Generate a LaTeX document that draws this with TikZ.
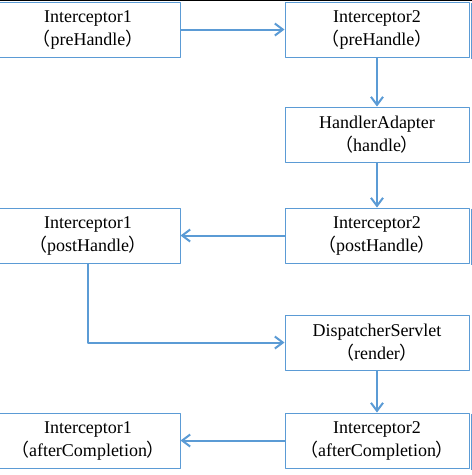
\documentclass[tikz,border=0pt]{standalone}
\usepackage{fontspec}
\setmainfont{Liberation Serif}
\newfontfamily\cjk{Noto Sans CJK SC}
\usetikzlibrary{arrows.meta}
\definecolor{boxblue}{HTML}{5B9BD5}
\newcommand{\fwl}{{\cjk （}}
\newcommand{\fwr}{{\cjk ）}}
\tikzset{
	hop/.style={draw=boxblue,line width=1pt,minimum width=184pt,minimum height=55pt,inner sep=0pt,align=center,font=\fontsize{18}{23}\selectfont},
	noi/.style={draw=boxblue,line width=2pt},
	vien/.style={draw=boxblue,line width=1.5pt}
}
\begin{document}
\begin{tikzpicture}[x=1pt,y=-1pt,line join = round,>={Straight Barb[length=8pt,width=12pt]}]
	\useasboundingbox (0,0) rectangle (472,475);
	%Đường viền trên
	\draw[black,line width=1pt] (0,0.5)--(472,0.5);
	%Các hộp cột trái
	\node[hop] (pre1) at (88,29.5) {Interceptor1\\\fwl preHandle\fwr};
	\node[hop] (post1) at (88,235.5) {Interceptor1\\\fwl postHandle\fwr};
	\node[hop] (after1) at (88,440.5) {Interceptor1\\\fwl afterCompletion\fwr};
	%Các hộp cột phải
	\node[hop] (pre2) at (377,29.5) {Interceptor2\\\fwl preHandle\fwr};
	\node[hop] (adapter) at (377,134.5) {HandlerAdapter\\\fwl handle\fwr};
	\node[hop] (post2) at (377,235.5) {Interceptor2\\\fwl postHandle\fwr};
	\node[hop] (render) at (377,342.5) {DispatcherServlet\\\fwl render\fwr};
	\node[hop] (after2) at (377,440.5) {Interceptor2\\\fwl afterCompletion\fwr};
	%Nét bên phải
	\foreach \b in {pre2,post2,after2} \draw[vien] ([xshift=2pt,yshift=-1pt]\b.north east)--([xshift=2pt,yshift=-1.5pt]\b.south east);
	%Các mũi tên
	\draw[noi,->] (pre1)--(pre2);
	\draw[noi,->] (pre2)--(adapter);
	\draw[noi,->] (adapter)--(post2);
	\draw[noi,->] (post2)--(post1);
	\draw[noi,->] (post1.south)|-(render.west);
	\draw[noi,->] (render)--(after2);
	\draw[noi,->] (after2)--(after1);
\end{tikzpicture}
\end{document}
